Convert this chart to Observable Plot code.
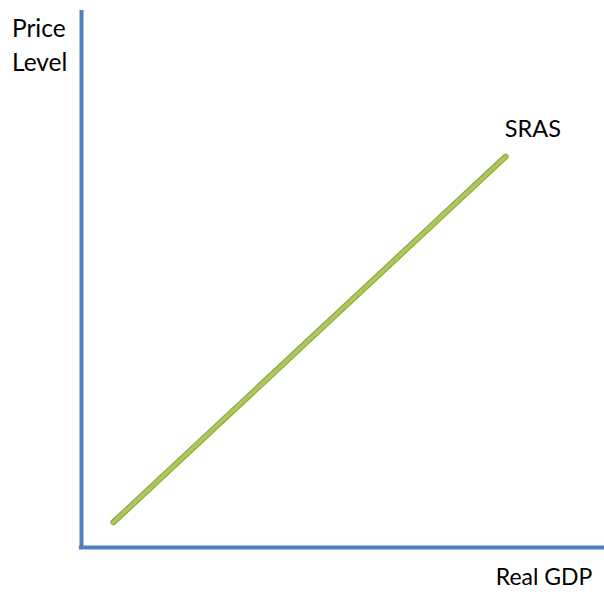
<!DOCTYPE html>
<html>
<head>
<meta charset="utf-8">
<script src="https://cdn.jsdelivr.net/npm/d3@7"></script>
<script src="https://cdn.jsdelivr.net/npm/@observablehq/plot@0.6"></script>
<style>
  html, body { margin: 0; padding: 0; background: #fff; }
  #chart svg { display: block; }
</style>
</head>
<body>
<div id="chart"></div>
<script>
// SRAS curve endpoints (real GDP, price level) in abstract axis units 0–100
const srasGDP = [6.1, 81.1];
const srasPrice = [4.7, 72.8];
const curveLabel = ["SRAS"];
const curveLabelPos = [[86.3, 77.8]];
const yAxisTitle = ["Price", "Level"];
const xAxisTitle = ["Real GDP"];

const sras = srasGDP.map((g, i) => ({gdp: g, price: srasPrice[i]}));

const font = "Lato, 'Open Sans', sans-serif";

const chart = Plot.plot({
  width: 604,
  height: 595,
  margin: 0,
  x: {domain: [0, 100], range: [81, 604], axis: null},
  y: {domain: [0, 100], range: [547, 10], axis: null},
  style: {fontFamily: font, background: "#fff"},
  marks: [
    Plot.ruleX([0], {y1: 0, y2: 100, stroke: "#4f81bd", strokeWidth: 4, clip: false}),
    Plot.ruleY([0], {x1: -0.4, x2: 100, stroke: "#4f81bd", strokeWidth: 4, clip: false}),
    Plot.line(sras, {x: "gdp", y: "price", stroke: "#90aa45", strokeWidth: 6, strokeLinecap: "round"}),
    Plot.line(sras, {x: "gdp", y: "price", stroke: "#adc85a", strokeWidth: 3.6, strokeLinecap: "round"}),
    Plot.text(curveLabel, {x: curveLabelPos.map(d => d[0]), y: curveLabelPos.map(d => d[1]), text: d => d, fontSize: 23.5, fill: "#000", textAnchor: "middle"}),
    Plot.text([yAxisTitle.join("\n")], {x: -13.3, y: 99.6, text: d => d, fontSize: 24.5, lineHeight: 1.4, fill: "#000", textAnchor: "start", lineAnchor: "top", clip: false}),
    Plot.text(xAxisTitle, {x: 79.2, y: -5.7, text: d => d, fontSize: 23, fill: "#000", textAnchor: "start", clip: false})
  ]
});
document.getElementById("chart").appendChild(chart);
</script>
</body>
</html>
